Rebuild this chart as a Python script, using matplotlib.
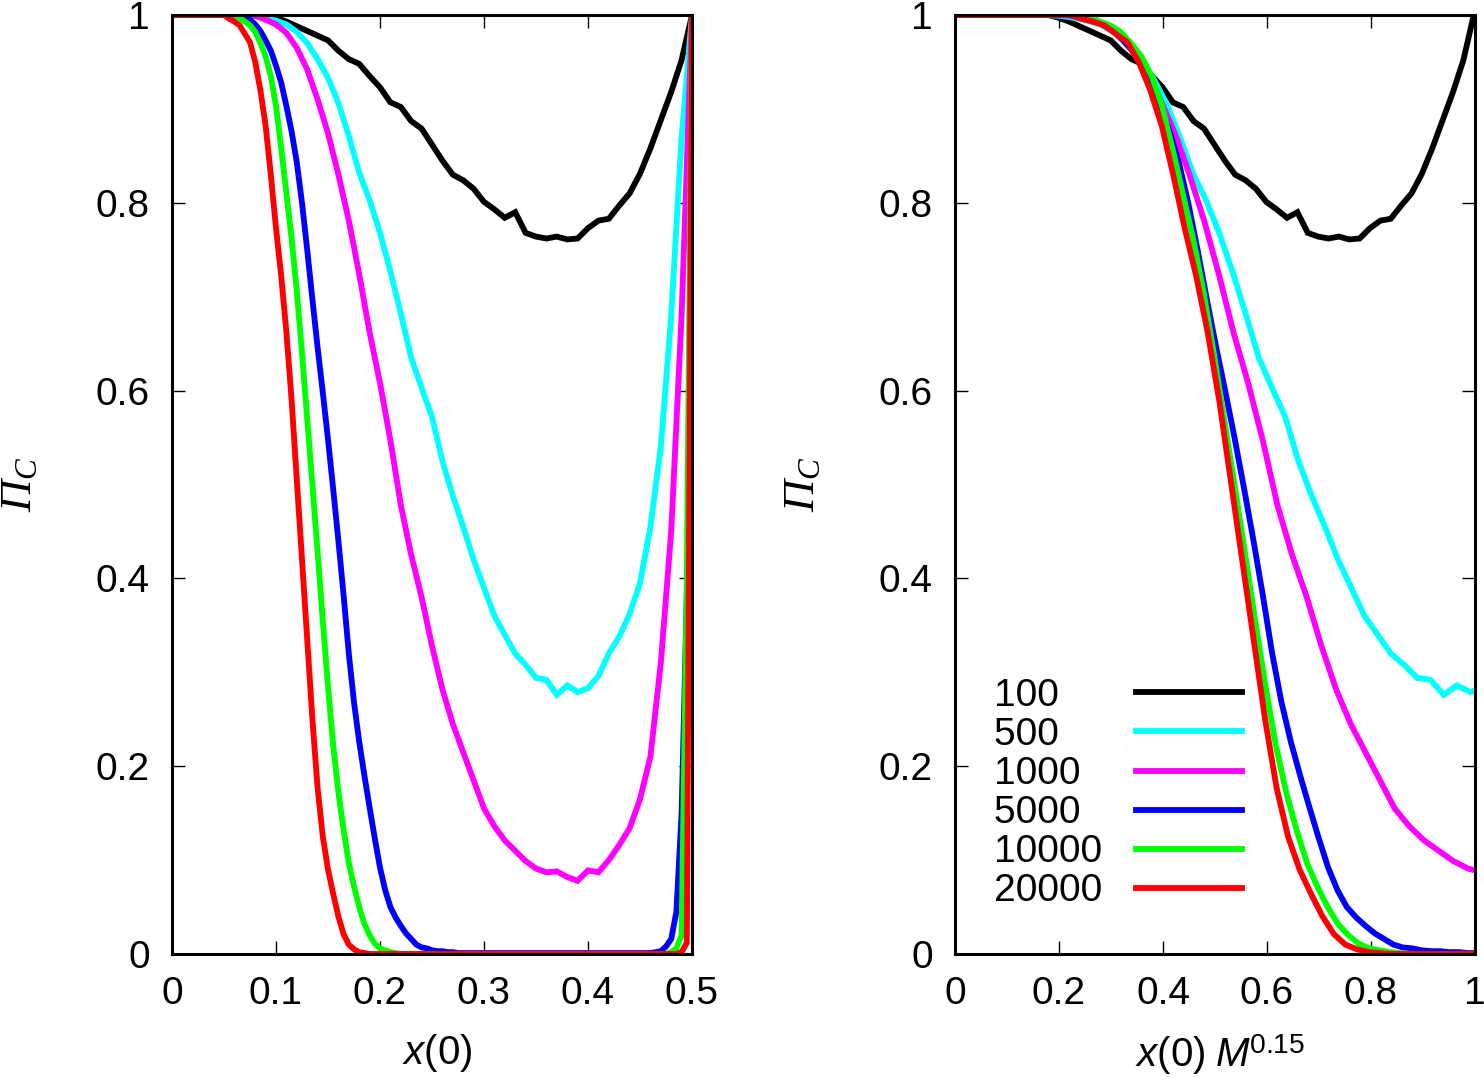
import numpy as np
import matplotlib
matplotlib.use('Agg')
import matplotlib.pyplot as plt

plt.rcParams['font.family'] = ['Liberation Sans', 'DejaVu Sans']
plt.rcParams['mathtext.fontset'] = 'custom'
plt.rcParams['mathtext.rm'] = 'Liberation Sans'
plt.rcParams['mathtext.it'] = 'Liberation Serif:italic'
plt.rcParams['mathtext.sf'] = 'Liberation Sans:italic'

# system sizes M and the scaling exponent used on the right panel
SIZES = [100, 500, 1000, 5000, 10000, 20000]
EXPONENT = 0.15
COLORS = ['#000000', '#00ffff', '#ff00ff', '#0000ff', '#00ff00', '#ff0000']

# x(0) grids: 0.01 step for small M, 0.005 step for large M
X_COARSE = np.round(np.arange(0, 0.5001, 0.01), 3)
X_FINE = np.round(np.arange(0, 0.5001, 0.005), 3)

PI_100 = [1.0] * 10 + [
    0.997, 0.993, 0.988, 0.983, 0.978, 0.973, 0.962, 0.953, 0.948, 0.935,
    0.923, 0.907, 0.902, 0.887, 0.879, 0.862, 0.845, 0.830, 0.824, 0.815,
    0.801, 0.793, 0.784, 0.790, 0.768, 0.764, 0.762, 0.764, 0.761, 0.762,
    0.773, 0.781, 0.783, 0.797, 0.810, 0.831, 0.858, 0.888, 0.918, 0.952,
    1.0]

PI_500 = [1.0] * 8 + [
    0.999, 0.997, 0.994, 0.990, 0.982, 0.970, 0.953, 0.933, 0.906, 0.871,
    0.832, 0.803, 0.768, 0.727, 0.682, 0.635, 0.603, 0.572, 0.525, 0.488,
    0.455, 0.420, 0.390, 0.360, 0.340, 0.320, 0.308, 0.294, 0.292, 0.276,
    0.286, 0.279, 0.283, 0.296, 0.320, 0.338, 0.362, 0.395, 0.455, 0.540,
    0.680, 0.870, 1.0]

PI_1000 = [1.0] * 8 + [
    0.999, 0.995, 0.990, 0.981, 0.965, 0.942, 0.910, 0.874, 0.830, 0.781,
    0.724, 0.662, 0.608, 0.547, 0.478, 0.425, 0.380, 0.328, 0.282, 0.245,
    0.215, 0.185, 0.155, 0.136, 0.121, 0.110, 0.099, 0.091, 0.087, 0.088,
    0.082, 0.078, 0.089, 0.087, 0.100, 0.116, 0.134, 0.165, 0.210, 0.310,
    0.450, 0.680, 1.0]

PI_5000 = [1.0] * 13 + [
    0.999, 0.998, 0.995, 0.990, 0.983, 0.973, 0.962, 0.946, 0.928, 0.903,
    0.876, 0.843, 0.800, 0.750, 0.697, 0.646, 0.598, 0.548, 0.495, 0.440,
    0.382, 0.320, 0.268, 0.226, 0.190, 0.156, 0.123, 0.092, 0.068, 0.050,
    0.039, 0.030, 0.022, 0.016, 0.010, 0.007, 0.006, 0.004, 0.003, 0.003,
    0.002, 0.002] + [0.001] * 38 + [
    0.002, 0.003, 0.008, 0.016, 0.045, 0.150, 0.380, np.nan]

PI_10000 = [1.0] * 13 + [
    0.997, 0.993, 0.989, 0.982, 0.970, 0.956, 0.935, 0.903, 0.858, 0.810,
    0.762, 0.706, 0.640, 0.570, 0.500, 0.428, 0.355, 0.285, 0.222, 0.172,
    0.132, 0.097, 0.072, 0.050, 0.032, 0.020, 0.011, 0.006, 0.004, 0.002,
    0.001] + [0.0] * 52 + [
    0.002, 0.006, 0.020, 0.400, 1.0]

PI_20000 = [1.0] * 11 + [
    0.996, 0.993, 0.989, 0.980, 0.971, 0.950, 0.920, 0.882, 0.830, 0.773,
    0.722, 0.662, 0.590, 0.505, 0.420, 0.335, 0.250, 0.177, 0.125, 0.090,
    0.064, 0.040, 0.021, 0.010, 0.005, 0.002, 0.001] + [0.0] * 60 + [
    0.002, 0.012, 1.0]

CURVES = [
    (X_COARSE, PI_100), (X_COARSE, PI_500), (X_COARSE, PI_1000),
    (X_FINE, PI_5000), (X_FINE, PI_10000), (X_FINE, PI_20000),
]

Y_TICKS = [0, 0.2, 0.4, 0.6, 0.8, 1]
Y_TICKLABELS = ['0', '0.2', '0.4', '0.6', '0.8', '1']
XL_TICKS = [0, 0.1, 0.2, 0.3, 0.4, 0.5]
XL_TICKLABELS = ['0', '0.1', '0.2', '0.3', '0.4', '0.5']
XR_TICKS = [0, 0.2, 0.4, 0.6, 0.8, 1]
XR_TICKLABELS = ['0', '0.2', '0.4', '0.6', '0.8', '1']

FS = 28
LW = 4.2


def style_axes(ax, xticks, xlabels):
    ax.set_ylim(0, 1)
    ax.set_yticks(Y_TICKS)
    ax.set_yticklabels(Y_TICKLABELS)
    ax.set_xticks(xticks)
    ax.set_xticklabels(xlabels)
    ax.set_xlim(xticks[0], xticks[-1])
    ax.tick_params(direction='in', length=9.5, width=1.0, top=True,
                   right=True, labelsize=FS)
    ax.tick_params(axis='y', pad=16)
    ax.tick_params(axis='x', pad=16)
    for sp in ax.spines.values():
        sp.set_linewidth(2.2)
    # italic serif capital pi with a serif italic subscript C
    ax.set_ylabel('Π$_C$', fontsize=32, family='Liberation Serif',
                  fontstyle='italic')
    ax.yaxis.set_label_coords(-0.254, 0.5)


fig = plt.figure(figsize=(14.84, 10.77), dpi=100)
ax1 = fig.add_axes([172 / 1484, 123 / 1077, 520 / 1484, 939 / 1077])
ax2 = fig.add_axes([955 / 1484, 123 / 1077, 520 / 1484, 939 / 1077])

for m, col, (xs, ys) in zip(SIZES, COLORS, CURVES):
    xs = np.asarray(xs)
    ys = np.asarray(ys, dtype=float)
    ax1.plot(xs, ys, color=col, lw=LW, solid_joinstyle='miter')
    ax2.plot(xs * m ** EXPONENT, ys, color=col, lw=LW,
             solid_joinstyle='miter', label=str(m))

style_axes(ax1, XL_TICKS, XL_TICKLABELS)
style_axes(ax2, XR_TICKS, XR_TICKLABELS)

ax1.set_xlabel(r'$\mathsf{x}(0)$', fontsize=FS + 1)
ax2.set_xlabel(r'$\mathsf{x}(0)\ \mathsf{M}^{0.15}$', fontsize=FS + 1)
ax1.xaxis.set_label_coords(0.51, -0.083)
ax2.xaxis.set_label_coords(0.51, -0.083)

# pad labels with figure spaces so the texts line up on the left
handles, labels = ax2.get_legend_handles_labels()
width = max(len(s) for s in labels)
labels = [s + '\u2007' * (width - len(s)) for s in labels]
ax2.legend(handles, labels, loc='upper left', bbox_to_anchor=(0.075, 0.294),
           frameon=False, markerfirst=False, fontsize=FS, handlelength=2.72,
           handletextpad=0.87, labelspacing=0.08, borderpad=0, borderaxespad=0)

fig.savefig('out.png', dpi=100)
